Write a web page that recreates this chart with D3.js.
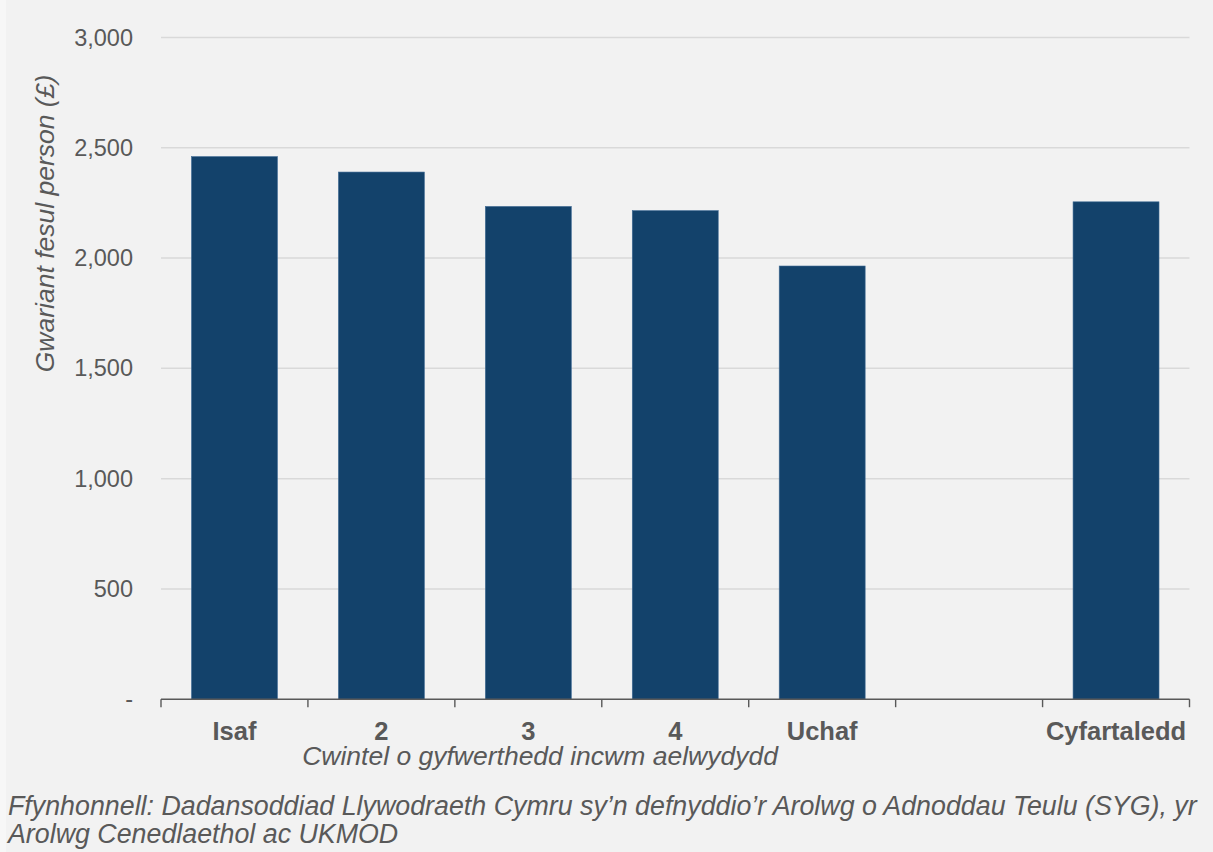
<!DOCTYPE html>
<html>
<head>
<meta charset="utf-8">
<script src="https://cdn.jsdelivr.net/npm/d3@7"></script>
<style>
  html, body { margin: 0; padding: 0; background: #f7f7f7; }
  svg { display: block; }
  text { font-family: "Liberation Sans", Arial, sans-serif; fill: #595959; }
</style>
</head>
<body>
<svg id="chart" width="1213" height="852"></svg>
<script>
const categories = ["Isaf", "2", "3", "4", "Uchaf", "", "Cyfartaledd"];
const values = [2460, 2390, 2234, 2215, 1964, null, 2255];
const yTicks = [0, 500, 1000, 1500, 2000, 2500, 3000];
const yTitle = "Gwariant fesul person (£)";
const xTitle = "Cwintel o gyfwerthedd incwm aelwydydd";
const sourceLines = [
  "Ffynhonnell: Dadansoddiad Llywodraeth Cymru sy’n defnyddio’r Arolwg o Adnoddau Teulu (SYG), yr",
  "Arolwg Cenedlaethol ac UKMOD"
];

const svg = d3.select("#chart");
svg.append("rect").attr("x", 6).attr("y", 0).attr("width", 1207).attr("height", 852).attr("fill", "#f2f2f2");

const x0 = 161, x1 = 1189.5, yTop = 37.5, yBot = 699.2;
const x = d3.scaleBand().domain(categories.map((c, i) => i)).range([x0, x1]).paddingInner(0).paddingOuter(0);
const y = d3.scaleLinear().domain([0, 3000]).range([yBot, yTop]);

// gridlines
svg.append("g").selectAll("line").data(yTicks.filter(d => d > 0)).join("line")
  .attr("x1", x0).attr("x2", x1)
  .attr("y1", d => y(d)).attr("y2", d => y(d))
  .attr("stroke", "#d9d9d9").attr("stroke-width", 1.5);

// y tick labels
const yAxis = svg.append("g").attr("transform", `translate(${x0},0)`)
  .call(d3.axisLeft(y).tickValues(yTicks).tickSize(0).tickPadding(28)
    .tickFormat(d => d === 0 ? "-" : d3.format(",")(d)));
yAxis.select(".domain").remove();
yAxis.selectAll("text").style("font-size", "23.5px").attr("fill", "#595959").style("font-family", '"Liberation Sans", Arial, sans-serif');

// bars
const barFrac = 0.585;
const bw = x.bandwidth() * barFrac;
svg.append("g").selectAll("rect").data(values.map((v, i) => ({v, i})).filter(d => d.v != null)).join("rect")
  .attr("x", d => x(d.i) + (x.bandwidth() - bw) / 2)
  .attr("width", bw)
  .attr("y", d => y(d.v))
  .attr("height", d => y(0) - y(d.v))
  .attr("fill", "#13426b")
  .attr("stroke", "#3f6a94").attr("stroke-width", 0.6);

// x axis line and ticks at band boundaries
const xa = svg.append("g");
xa.append("line").attr("x1", x0).attr("x2", x1).attr("y1", yBot).attr("y2", yBot)
  .attr("stroke", "#595959").attr("stroke-width", 1.4);
const bounds = categories.map((c, i) => x(i)).concat([x1]);
xa.selectAll("line.tk").data(bounds).join("line").attr("class", "tk")
  .attr("x1", d => d).attr("x2", d => d).attr("y1", yBot).attr("y2", yBot + 8)
  .attr("stroke", "#595959").attr("stroke-width", 1.4);

// x labels
svg.append("g").selectAll("text").data(categories).join("text")
  .attr("x", (d, i) => x(i) + x.bandwidth() / 2)
  .attr("y", 740)
  .attr("text-anchor", "middle")
  .style("font-size", "25.5px").style("font-weight", "bold")
  .text(d => d);

// x title
svg.append("text").attr("x", 540).attr("y", 765).attr("text-anchor", "middle")
  .style("font-size", "26.5px").style("font-style", "italic").text(xTitle);

// y title
svg.append("text").attr("transform", "translate(54,223.5) rotate(-90)").attr("text-anchor", "middle")
  .style("font-size", "26.5px").style("font-style", "italic").text(yTitle);

// source
svg.append("g").selectAll("text").data(sourceLines).join("text")
  .attr("x", 8).attr("y", (d, i) => 814.5 + i * 28.4)
  .style("font-size", "26.8px").style("font-style", "italic").text(d => d);
</script>
</body>
</html>
